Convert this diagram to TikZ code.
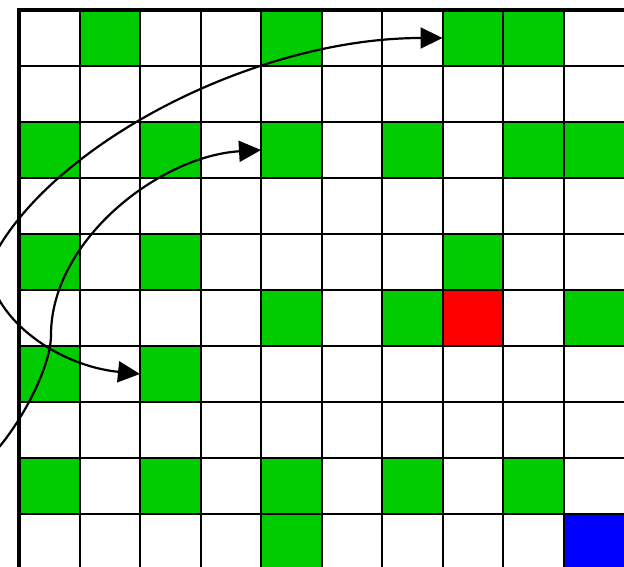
\documentclass[tikz,border=0pt]{standalone}
\usetikzlibrary{arrows.meta}
\definecolor{cellgreen}{RGB}{0,204,0}
\definecolor{cellred}{RGB}{255,0,0}
\definecolor{cellblue}{RGB}{0,0,255}
\tikzset{
  gridline/.style={line width=2pt, black},
  borderline/.style={line width=4.5pt, black, line join=miter},
  jump/.style={line width=2.2pt, black, -{Triangle[length=22pt,width=21pt]}},
}
\begin{document}
\begin{tikzpicture}[x=1pt,y=-1pt]
\useasboundingbox (0,0) rectangle (624,567);
\clip (0,0) rectangle (624,567);
\fill[white] (0,0) rectangle (624,567);
% cells
\foreach \r/\c in {0/1,0/4,0/7,0/8,
                   2/0,2/2,2/4,2/6,2/8,2/9,
                   4/0,4/2,4/7,
                   5/4,5/6,5/9,
                   6/0,6/2,
                   8/0,8/2,8/4,8/6,8/8,
                   9/4}
  \fill[cellgreen] ({19+60.5*\c},{10+56*\r}) rectangle ++(60.5,56);
\fill[cellred]  ({19+60.5*7},{10+56*5}) rectangle ++(60.5,56);
\fill[cellblue] ({19+60.5*9},{10+56*9}) rectangle ++(60.5,56);
% grid
\foreach \i in {1,...,9}
  \draw[gridline] ({19+60.5*\i},10) -- ({19+60.5*\i},570);
\foreach \j in {1,...,9}
  \draw[gridline] (19,{10+56*\j}) -- (630,{10+56*\j});
\draw[borderline] (19,575) -- (19,10) -- (630,10);
% arrow end points
\coordinate (sA) at (-12,268);
\coordinate (tA1) at (442.5,38);
\coordinate (tA2) at (140,374);
\coordinate (sB) at (-15,462);
\coordinate (mB) at (51,335);
\coordinate (tB) at (261,150);
% arrows
\draw[jump] (sA) .. controls (40,150) and (250,38) .. (tA1);
\draw[jump] (sA) .. controls (-5,322) and (60,366) .. (tA2);
\draw[jump] (sB) .. controls (15,435) and (51,370) .. (mB)
             .. controls (51,240) and (160,156) .. (tB);
\end{tikzpicture}
\end{document}
